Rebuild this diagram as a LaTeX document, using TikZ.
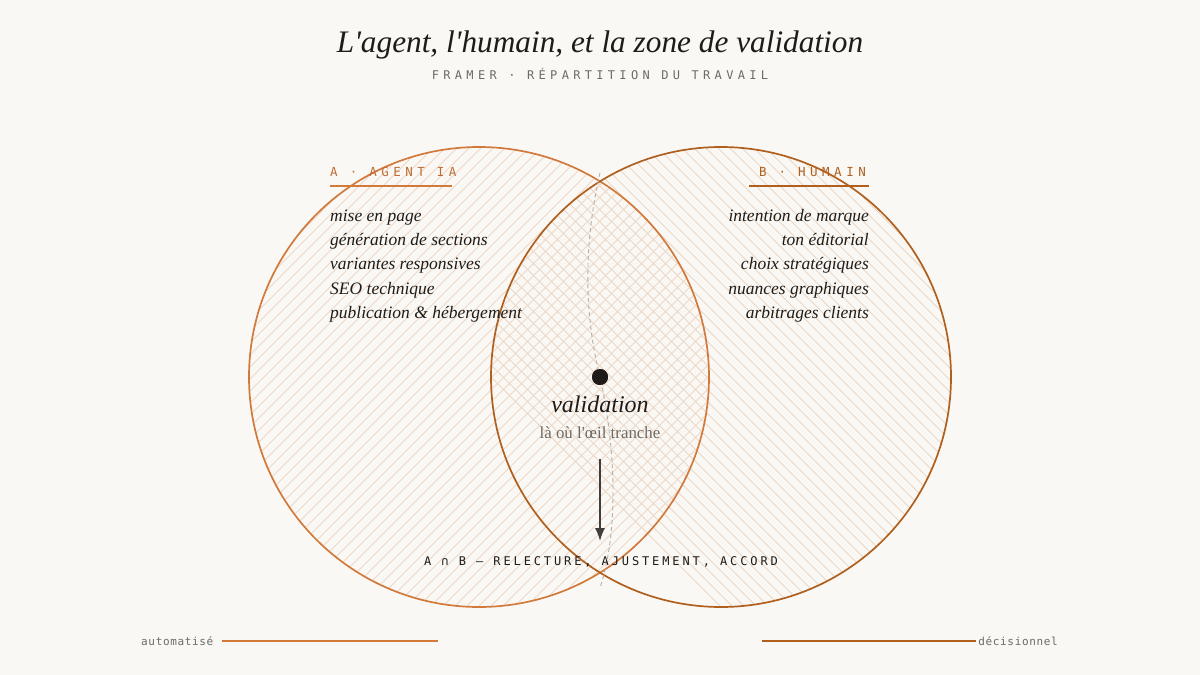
\documentclass[tikz,border=0pt]{standalone}
\usepackage{fontspec}
\newfontfamily\serif{Liberation Serif}
\newfontfamily\monotag[LetterSpace=36]{DejaVu Sans Mono}
\newfontfamily\monointer[LetterSpace=24]{DejaVu Sans Mono}
\newfontfamily\monoaxis[LetterSpace=6]{DejaVu Sans Mono}
\usetikzlibrary{arrows.meta}
\definecolor{paper}{HTML}{FAF8F4}
\definecolor{ink}{HTML}{1E1B18}
\definecolor{muted}{HTML}{6E6A66}
\definecolor{agentc}{HTML}{D27A3C}
\definecolor{humanc}{HTML}{B0601E}
\definecolor{seam}{HTML}{B4B0AA}

\begin{document}
\begin{tikzpicture}[x=1pt,y=-1pt,
    ring/.style={line width=1.7pt},
    hatch/.style={line width=0.8pt},
    tag/.style={font=\fontsize{12.5}{14}\selectfont\monotag,inner sep=0pt},
    item/.style={font=\fontsize{17.5}{20}\selectfont\serif\itshape,text=ink,inner sep=0pt},
    axis/.style={font=\fontsize{11}{13}\selectfont\monoaxis,text=muted,inner sep=0pt}]
  \useasboundingbox[fill=paper] (0,0) rectangle (1200,675);
  % title
  \node[font=\fontsize{31.3}{36}\selectfont\serif\itshape,text=ink,anchor=base,inner sep=0pt] (title) at (600,52) {L'agent, l'humain, et la zone de validation};
  \node[tag,text=muted,font=\fontsize{12}{14}\selectfont\monotag,anchor=base] (sub) at (600,79) {FRAMER · RÉPARTITION DU TRAVAIL};
  % hatched sets
  \begin{scope}
    \clip (479,377) circle[radius=230];
    \foreach \k in {-230,-218,...,720}
      \draw[hatch,agentc!30] (\k,607) -- ++(460,-460);
  \end{scope}
  \begin{scope}
    \clip (721,377) circle[radius=230];
    \foreach \k in {261,273,...,1220}
      \draw[hatch,humanc!26] (\k,147) -- ++(460,460);
  \end{scope}
  \draw[ring,agentc] (479,377) circle[radius=230];
  \draw[ring,humanc] (721,377) circle[radius=230];
  % seam through the lens
  \coordinate (top) at (600,173);
  \coordinate (bot) at (600,588);
  \node[circle,fill=ink,minimum size=16pt,inner sep=0pt] (dot) at (600,377) {};
  \draw[seam,dash pattern=on 4pt off 3pt,line width=0.9pt] (top) .. controls (580,260) and (588,330) .. (dot.center) .. controls (612,430) and (622,520) .. (bot);
  \fill[ink] (dot) circle[radius=8];
  % set labels
  \node[tag,text=agentc!90!black,anchor=base west] (A) at (330,176) {A · AGENT IA};
  \draw[agentc,line width=1.2pt] (330,186) -- (452,186);
  \node[tag,text=humanc,anchor=base east] (B) at (866,176) {B · HUMAIN};
  \draw[humanc,line width=1.2pt] (749,186) -- (869,186);
  \foreach \t [count=\i] in {mise en page,génération de sections,variantes responsives,SEO technique,publication \& hébergement}
    \node[item,anchor=base west] (a\i) at (330,197+24.3*\i) {\t};
  \foreach \t [count=\i] in {intention de marque,ton éditorial,choix stratégiques,nuances graphiques,arbitrages clients}
    \node[item,anchor=base east] (b\i) at (869,197+24.3*\i) {\t};
  % centre
  \node[font=\fontsize{24}{28}\selectfont\serif\itshape,text=ink,anchor=base,inner sep=0pt] (val) at (600,412) {validation};
  \node[font=\fontsize{16.9}{20}\selectfont\serif,text=muted,anchor=base,inner sep=0pt] (eye) at (600,438) {là où l'œil tranche};
  \node[text=ink,font=\fontsize{12}{14}\selectfont\monointer,anchor=base,inner sep=0pt] (inter) at (601,565) {A ∩ B — RELECTURE, AJUSTEMENT, ACCORD};
  \coordinate (arrtop) at (600,459);
  \coordinate (arrbot) at (600,541);
  \draw[ink!85,line width=1.5pt,-{Latex[length=13pt,width=10pt]}] (arrtop) -- (arrbot);
  % axis
  \node[axis,anchor=base west] (auto) at (141,645) {automatisé};
  \node[axis,anchor=base east] (deci) at (1058,645) {décisionnel};
  \coordinate (autoend) at (438,641);
  \coordinate (decistart) at (762,641);
  \draw[agentc,line width=1.5pt] ([xshift=8pt]auto.east |- autoend) -- (autoend);
  \draw[humanc,line width=1.5pt] (decistart) -- ([xshift=-2pt]deci.west |- decistart);
\end{tikzpicture}
\end{document}
